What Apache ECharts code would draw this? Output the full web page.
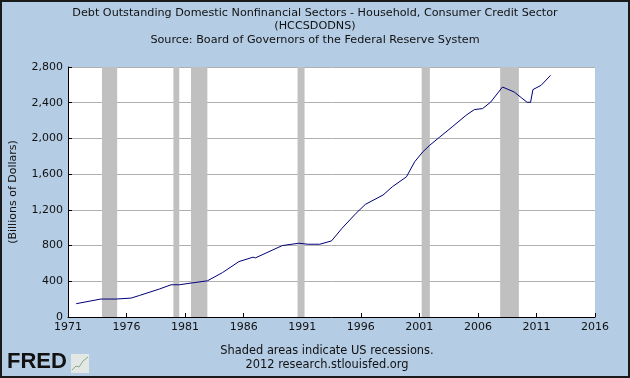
<!DOCTYPE html>
<html>
<head>
<meta charset="utf-8">
<script src="https://cdn.jsdelivr.net/npm/echarts@6/dist/echarts.min.js"></script>
<style>
  html, body { margin: 0; padding: 0; background: #b4cce4; }
  #chart { width: 630px; height: 378px; }
</style>
</head>
<body>
<div id="chart"></div>
<script>
// years (decimal) and consumer credit, billions of dollars
const years = [1971.7, 1973.8, 1975.1, 1976.4, 1977.1, 1978.8, 1979.8, 1980.5, 1981.5, 1982.9,
  1984.2, 1985.6, 1986.8, 1987.0, 1988.5, 1989.3, 1990.7, 1991.5, 1992.5, 1993.5,
  1994.4, 1995.6, 1996.4, 1997.9, 1998.7, 1999.9, 2000.6, 2001.3, 2001.9, 2002.7,
  2003.8, 2005.0, 2005.7, 2006.4, 2007.1, 2008.1, 2009.1, 2009.7, 2010.2, 2010.5,
  2010.7, 2011.4, 2012.2];
const credit = [149, 201, 201, 212, 241, 313, 361, 361, 380, 405,
  498, 621, 670, 662, 752, 800, 826, 815, 815, 852,
  994, 1162, 1262, 1366, 1459, 1570, 1738, 1850, 1925, 2011,
  2129, 2260, 2323, 2334, 2408, 2576, 2520, 2457, 2405, 2405,
  2547, 2595, 2706];

const recessionStart = [1973.9, 1980.0, 1981.5, 1990.6, 2001.2, 2007.9];
const recessionEnd = [1975.2, 1980.5, 1982.9, 1991.2, 2001.9, 2009.5];

const font = 'DejaVu Sans';

const chart = echarts.init(document.getElementById('chart'));

const option = {
  backgroundColor: '#b4cce4',
  animation: false,
  title: [
    {
      text: 'Debt Outstanding Domestic Nonfinancial Sectors - Household, Consumer Credit Sector\n(HCCSDODNS)\nSource: Board of Governors of the Federal Reserve System',
      left: 'center',
      top: 1,
      textStyle: { fontFamily: font, fontSize: 11.2, fontWeight: 'normal', color: '#111', lineHeight: 13.5 }
    },
    {
      text: 'Shaded areas indicate US recessions.\n2012 research.stlouisfed.org',
      left: 322,
      textAlign: 'center',
      top: 339,
      textStyle: { fontFamily: font, fontSize: 11.4, fontWeight: 'normal', color: '#111', lineHeight: 14 }
    }
  ],
  graphic: [
    {
      type: 'rect',
      shape: { x: 1, y: 1, width: 628, height: 376 },
      style: { fill: null, stroke: '#1a1a1a', lineWidth: 2 },
      silent: true
    },
    {
      type: 'text',
      left: 7,
      top: 351,
      style: { text: 'FRED', fontFamily: 'Liberation Sans', fontSize: 22, fontWeight: 'bold', fill: '#111' }
    },
    {
      type: 'rect',
      shape: { x: 71, y: 354, width: 18, height: 19 },
      style: { fill: '#e4e8e4' }
    },
    {
      type: 'polyline',
      shape: { points: [[72, 370], [76, 366], [79, 367], [83, 361], [88, 357]] },
      style: { stroke: '#8aa88a', lineWidth: 1, fill: null }
    }
  ],
  grid: {
    left: 68,
    right: 35,
    top: 67,
    bottom: 61,
    show: true,
    backgroundColor: '#ffffff',
    borderWidth: 0
  },
  xAxis: {
    type: 'value',
    min: 1971,
    max: 2016,
    interval: 5,
    axisLine: { show: true, lineStyle: { color: '#000', width: 1 } },
    axisTick: { show: true, inside: true, length: 4, lineStyle: { color: '#000' } },
    axisLabel: { fontFamily: font, fontSize: 11, color: '#111', margin: 5, formatter: v => String(v) },
    splitLine: { show: false }
  },
  yAxis: {
    type: 'value',
    min: 0,
    max: 2800,
    interval: 400,
    name: '(Billions of Dollars)',
    nameLocation: 'middle',
    nameGap: 49,
    nameTextStyle: { fontFamily: font, fontSize: 11, color: '#111' },
    axisLine: { show: true, lineStyle: { color: '#000', width: 1 } },
    axisTick: { show: true, inside: true, length: 4, lineStyle: { color: '#000' } },
    axisLabel: {
      fontFamily: font, fontSize: 11, color: '#111', margin: 5,
      formatter: v => v.toLocaleString('en-US')
    },
    splitLine: { show: true, lineStyle: { color: '#b0b0b0', width: 1 } }
  },
  series: [
    {
      type: 'line',
      data: years.map((y, i) => [y, credit[i]]),
      showSymbol: false,
      lineStyle: { color: '#00007a', width: 1 },
      itemStyle: { color: '#00007a' },
      z: 3,
      markArea: {
        silent: true,
        itemStyle: { color: '#c0c0c0', opacity: 1 },
        data: recessionStart.map((s, i) => [{ xAxis: s }, { xAxis: recessionEnd[i] }])
      }
    }
  ]
};

chart.setOption(option);
</script>
</body>
</html>
